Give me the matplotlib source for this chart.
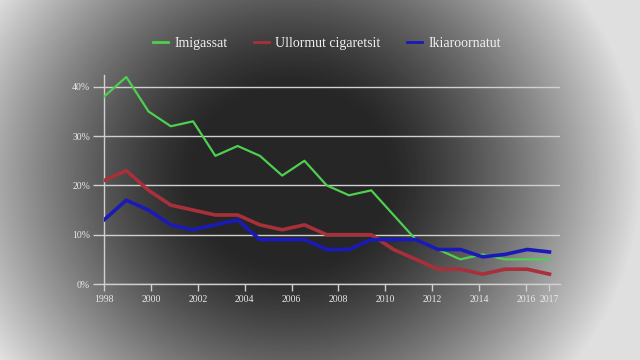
import numpy as np
import matplotlib
matplotlib.use("Agg")
import matplotlib.pyplot as plt

# Data (percent), 21 evenly spaced readings between 1998 and 2017
imigassat = [38, 42, 35, 32, 33, 26, 28, 26, 22, 25, 20, 18, 19, 14, 9, 7, 5, 6, 5, 5, 5]
ullormut = [21, 23, 19, 16, 15, 14, 14, 12, 11, 12, 10, 10, 10, 7, 5, 3, 3, 2, 3, 3, 2]
ikiaroornatut = [13, 17, 15, 12, 11, 12, 13, 9, 9, 9, 7, 7, 9, 9, 9, 7, 7, 5.5, 6, 7, 6.5]
year_ticks = [1998, 2000, 2002, 2004, 2006, 2008, 2010, 2012, 2014, 2016, 2017]
pct_ticks = [0, 10, 20, 30, 40]

x = np.linspace(1998, 2017, len(imigassat))

fig = plt.figure(figsize=(6.4, 3.6), dpi=100)

# vignette background
bg = fig.add_axes([0, 0, 1, 1], zorder=0)
yy, xx = np.mgrid[0:360, 0:640]
r = np.sqrt(((xx - 290) / 320.0) ** 2 + ((yy - 175) / 290.0) ** 2)
v = 38 + 185 * np.clip((r - 0.3) / 0.8, 0, 1) ** 1.3
bg.imshow(v, cmap="gray", vmin=0, vmax=255, aspect="auto")
bg.axis("off")

ax = fig.add_axes([104 / 640, 76 / 360, 456 / 640, 209 / 360], zorder=1)
ax.patch.set_alpha(0)

grid_c = "#d0d0d0"
serif = ["Liberation Serif", "DejaVu Serif"]

l1, = ax.plot(x, imigassat, color="#4fcf4f", lw=1.6, label="Imigassat", zorder=3)
l2, = ax.plot(x, ullormut, color="#a8303a", lw=2.6, label="Ullormut cigaretsit", zorder=3)
l3, = ax.plot(x, ikiaroornatut, color="#1a1ab8", lw=2.6, label="Ikiaroornatut", zorder=4)

ax.set_xlim(1998, 2017.45)
ax.set_ylim(0, 42.4)
ax.set_yticks(pct_ticks)
ax.set_yticklabels([f"{p}%" for p in pct_ticks], fontsize=7, color="#e8e8e8", family=serif)
ax.set_xticks(year_ticks)
ax.set_xticklabels([str(y) for y in year_ticks], fontsize=7, color="#e8e8e8", family=serif)
ax.yaxis.grid(True, color=grid_c, lw=1)
ax.tick_params(axis="y", length=8, color=grid_c, width=1, pad=2)
ax.tick_params(axis="x", length=5, color=grid_c, width=1, pad=3)

for s in ["top", "right"]:
    ax.spines[s].set_visible(False)
for s in ["left", "bottom"]:
    ax.spines[s].set_color(grid_c)
    ax.spines[s].set_linewidth(1)

leg = fig.legend(handles=[l1, l2, l3], loc="center", bbox_to_anchor=(0.511, 0.88),
                 ncol=3, frameon=False, handlelength=1.1, columnspacing=1.9,
                 handletextpad=0.45, prop={"family": serif, "size": 10})
for t in leg.get_texts():
    t.set_color("#f0f0f0")
for ln in leg.get_lines():
    ln.set_linewidth(2)

fig.savefig("out.png", dpi=100)
